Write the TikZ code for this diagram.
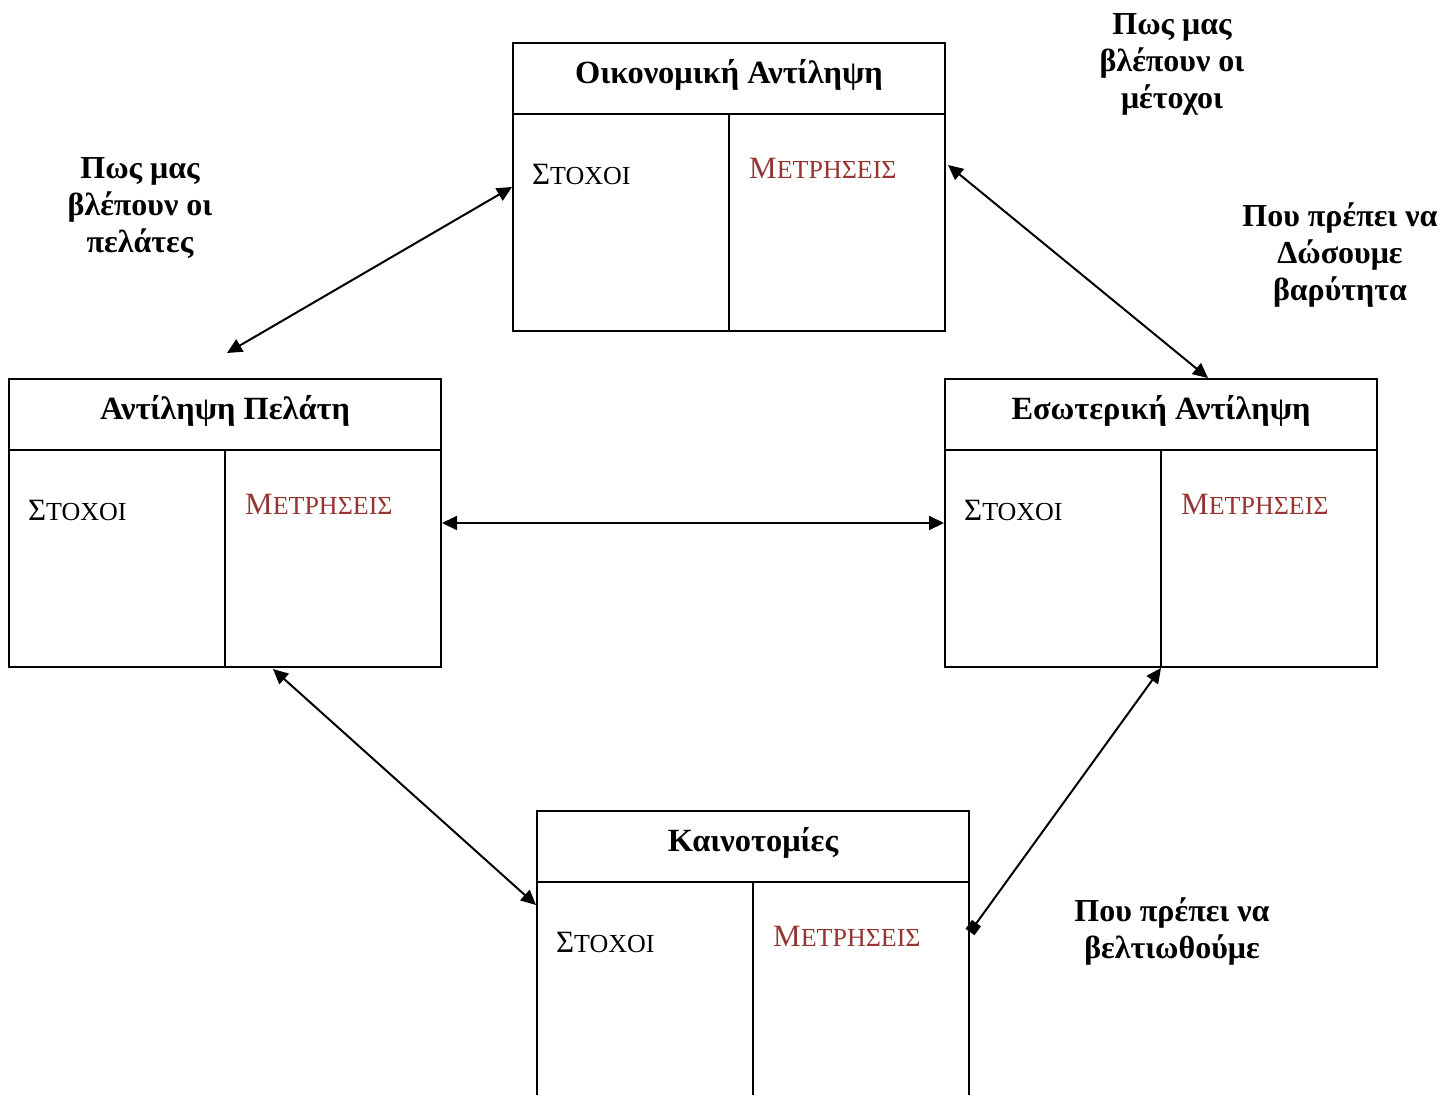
\documentclass[tikz,border=0pt]{standalone}
\usepackage{fontspec}
\setmainfont{Liberation Serif}
\usetikzlibrary{arrows.meta,calc}
\definecolor{metred}{RGB}{150,52,52}

% small capitals made by hand: first letter full size, the rest smaller
\newcommand\grsc[2]{{\fontsize{31}{31}\selectfont #1}{\fontsize{26}{26}\selectfont #2}}

\begin{document}
\begin{tikzpicture}[x=1pt,y=-1pt,
  panel/.style={draw,line width=2pt,minimum width=432pt,minimum height=288pt,
                anchor=north west,inner sep=0pt},
  rule/.style={line width=2pt},
  ttl/.style={font=\fontsize{32.4}{32}\selectfont\bfseries,anchor=center,inner sep=0pt},
  goal/.style={anchor=base west,inner sep=0pt},
  meas/.style={anchor=base west,inner sep=0pt,text=metred},
  lbl/.style={font=\fontsize{32}{37}\selectfont\bfseries,align=center,inner sep=0pt},
  link/.style={line width=2pt,{Triangle[length=15pt,width=14pt]}-{Triangle[length=15pt,width=14pt]}},
  sqlink/.style={line width=2pt,{Square[length=11pt,width=11pt]}-{Triangle[length=15pt,width=14pt]}},
]
\useasboundingbox (0,0) rectangle (1454,1095);

% four perspective panels: header row, then goals | measures
\foreach \nm/\px/\py/\tt in {fin/512/42/Οικονομική Αντίληψη,
                            cust/8/378/Αντίληψη Πελάτη,
                            int/944/378/Εσωτερική Αντίληψη,
                            inn/536/810/Καινοτομίες}{
  \node[panel] (\nm) at (\px,\py) {};
  \draw[rule] ($(\nm.north west)+(0,72)$) -- ($(\nm.north east)+(0,72)$);
  \draw[rule] ($(\nm.north)+(0,72)$) -- (\nm.south);
  \node[ttl] (\nm-title) at ($(\nm.north)+(0,33)$) {\tt};
  \node[goal] (\nm-goal) at ($(\nm.north west)+(20,142)$) {\grsc{Σ}{ΤΟΧΟΙ}};
  \node[meas] (\nm-meas) at ($(\nm.north west)+(237,136)$) {\grsc{Μ}{ΕΤΡΗΣΕΙΣ}};
}

% side notes
\node[lbl] (n-cust) at (140,208) {Πως μας\\βλέπουν οι\\πελάτες};
\node[lbl] (n-fin) at (1172,64) {Πως μας\\βλέπουν οι\\μέτοχοι};
\node[lbl] (n-int) at (1340,255) {Που πρέπει να\\Δώσουμε\\βαρύτητα};
\node[lbl] (n-inn) at (1172,932) {Που πρέπει να\\βελτιωθούμε};

% connector end points
\coordinate (c1) at ($(cust.north)+(2,-25)$);
\coordinate (f2) at ($(fin.north east)+(2,123)$);
\coordinate (i2) at ($(int.north west)+(264,0)$);
\coordinate (c4) at ($(cust.south west)+(265,1)$);
\coordinate (n4) at ($(inn.north west)+(0,95)$);
\coordinate (n5) at ($(inn.north east)+(0,122)$);

\draw[link] (fin.west) -- (c1);
\draw[link] (f2) -- (i2);
\draw[link] (cust.east) -- (int.west);
\draw[link] (c4) -- (n4);
\draw[sqlink] (n5) -- (int.south);
\end{tikzpicture}
\end{document}
